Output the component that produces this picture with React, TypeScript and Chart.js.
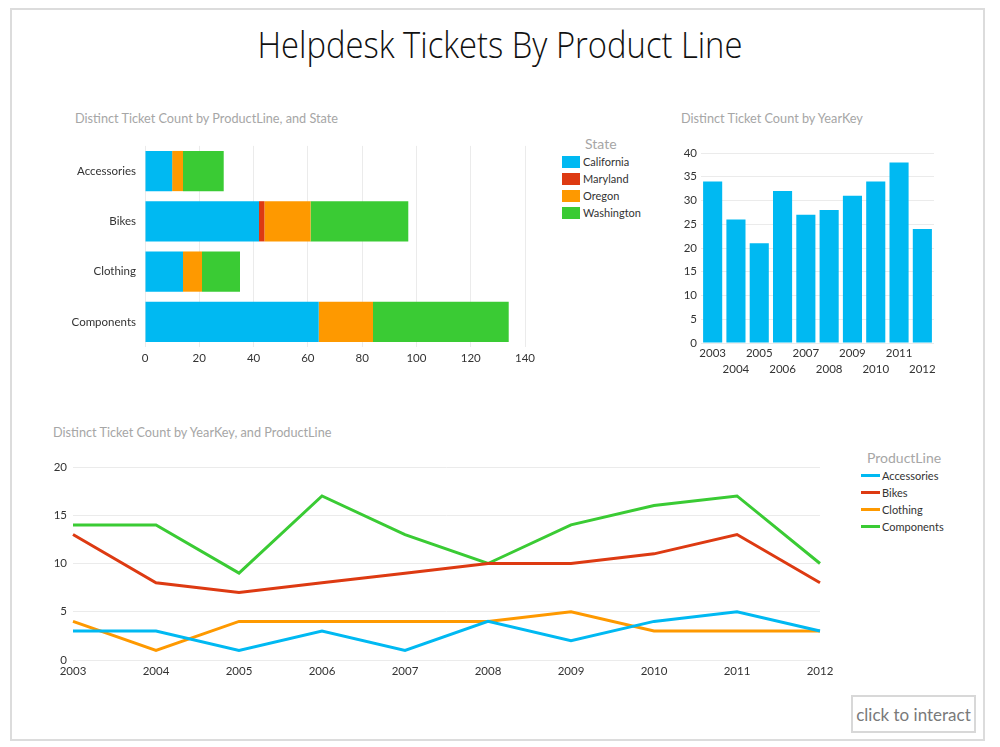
import React, { useEffect, useRef } from "react";
import { Chart, registerables } from "chart.js";

Chart.register(...registerables);

// ---------- data ----------
const productLines = ["Accessories", "Bikes", "Clothing", "Components"];
const states = ["California", "Maryland", "Oregon", "Washington"];
const californiaCounts = [10, 42, 14, 64];
const marylandCounts = [0, 2, 0, 0];
const oregonCounts = [4, 17, 7, 20];
const washingtonCounts = [15, 36, 14, 50];

const years = ["2003", "2004", "2005", "2006", "2007", "2008", "2009", "2010", "2011", "2012"];
const yearTotals = [34, 26, 21, 32, 27, 28, 31, 34, 38, 24];

const accessoriesByYear = [3, 3, 1, 3, 1, 4, 2, 4, 5, 3];
const bikesByYear = [13, 8, 7, 8, 9, 10, 10, 11, 13, 8];
const clothingByYear = [4, 1, 4, 4, 4, 4, 5, 3, 3, 3];
const componentsByYear = [14, 14, 9, 17, 13, 10, 14, 16, 17, 10];

// ---------- styles ----------
const COLORS = ["#00B9F2", "#DD3A12", "#FE9900", "#3ACB34"];
const FONT = "Lato, 'Open Sans', sans-serif";
const TITLE_FONT = "'Open Sans', Lato, sans-serif";
const TICK_COLOR = "#333333";
const GRID_COLOR = "#ebebeb";
const SUBTITLE_COLOR = "#a6a6a6";

function ChartCanvas({ left, top, width, height, makeConfig }: any) {
  const ref = useRef<HTMLCanvasElement | null>(null);
  useEffect(() => {
    if (!ref.current) return;
    const chart = new Chart(ref.current, makeConfig());
    return () => chart.destroy();
  }, []);
  return (
    <div style={{ position: "absolute", left, top, width, height }}>
      <canvas ref={ref} width={width} height={height} style={{ width, height, display: "block" }} />
    </div>
  );
}

const tickFont = { family: FONT, size: 11.5 };

function stackedBarConfig(): any {
  const seriesValues = [californiaCounts, marylandCounts, oregonCounts, washingtonCounts];
  return {
    type: "bar",
    data: {
      labels: productLines,
      datasets: states.map((s, i) => ({
        label: s,
        data: seriesValues[i],
        backgroundColor: COLORS[i],
        borderWidth: 0,
        barPercentage: 0.8,
        categoryPercentage: 1,
      })),
    },
    options: {
      indexAxis: "y",
      responsive: false,
      animation: false,
      layout: { padding: { top: 15, right: 15, left: 0, bottom: 0 } },
      plugins: { legend: { display: false }, tooltip: { enabled: false } },
      scales: {
        x: {
          stacked: true,
          min: 0,
          max: 140,
          ticks: { stepSize: 20, color: TICK_COLOR, font: tickFont, padding: 4 },
          grid: { color: GRID_COLOR, drawTicks: false },
          border: { display: false },
          afterFit: (s: any) => { s.height = 28; },
        },
        y: {
          stacked: true,
          ticks: { color: TICK_COLOR, font: tickFont, padding: 9 },
          grid: { display: false, drawTicks: false },
          border: { display: false },
          afterFit: (s: any) => { s.width = 85; },
        },
      },
    },
  };
}

function yearBarConfig(): any {
  return {
    type: "bar",
    data: {
      labels: years,
      datasets: [
        {
          label: "Distinct Ticket Count",
          data: yearTotals,
          backgroundColor: COLORS[0],
          borderWidth: 0,
          barPercentage: 0.82,
          categoryPercentage: 1,
        },
      ],
    },
    options: {
      responsive: false,
      animation: false,
      layout: { padding: { top: 23, right: 26, left: 0, bottom: 0 } },
      plugins: { legend: { display: false }, tooltip: { enabled: false } },
      scales: {
        x: {
          ticks: {
            color: TICK_COLOR,
            font: { ...tickFont, lineHeight: 1.35 },
            padding: 3,
            maxRotation: 0,
            autoSkip: false,
            callback: (_v: any, i: number) => (i % 2 === 0 ? [years[i], ""] : ["", years[i]]),
          },
          grid: { display: false, drawTicks: false },
          border: { display: false },
          afterFit: (s: any) => { s.height = 37; },
        },
        y: {
          min: 0,
          max: 40,
          ticks: { stepSize: 5, color: TICK_COLOR, font: tickFont, padding: 4 },
          grid: { color: GRID_COLOR, drawTicks: false },
          border: { display: false },
          afterFit: (s: any) => { s.width = 41; },
        },
      },
    },
  };
}

const lineSeries = [accessoriesByYear, bikesByYear, clothingByYear, componentsByYear];

function lineConfig(): any {
  return {
    type: "line",
    data: {
      labels: years,
      datasets: productLines.map((p, i) => ({
        label: p,
        data: lineSeries[i],
        borderColor: COLORS[i],
        backgroundColor: COLORS[i],
        borderWidth: 3,
        pointRadius: 0,
        tension: 0,
        fill: false,
      })),
    },
    options: {
      responsive: false,
      animation: false,
      layout: { padding: { top: 17, right: 20, left: 0, bottom: 0 } },
      plugins: { legend: { display: false }, tooltip: { enabled: false } },
      scales: {
        x: {
          offset: false,
          ticks: { color: TICK_COLOR, font: tickFont, padding: 4, maxRotation: 0, autoSkip: false },
          grid: { display: false, drawTicks: false },
          border: { display: false },
          afterFit: (s: any) => { s.height = 30; },
        },
        y: {
          min: 0,
          max: 20,
          ticks: { stepSize: 5, color: TICK_COLOR, font: tickFont, padding: 6 },
          grid: { color: GRID_COLOR, drawTicks: false },
          border: { display: false },
          afterFit: (s: any) => { s.width = 33; },
        },
      },
    },
  };
}

const subtitleStyle: any = {
  position: "absolute",
  fontFamily: FONT,
  fontSize: 12.7,
  color: SUBTITLE_COLOR,
  whiteSpace: "nowrap",
  lineHeight: "16px",
};

const legendTextStyle: any = {
  fontFamily: FONT,
  fontSize: 11,
  color: "#333",
  lineHeight: "17px",
  whiteSpace: "nowrap",
};

export default function App() {
  return (
    <div
      style={{
        position: "absolute",
        left: 0,
        top: 0,
        width: 1000,
        height: 747,
        background: "#fff",
        overflow: "hidden",
        fontFamily: FONT,
      }}
    >
      {/* frame */}
      <div
        style={{
          position: "absolute",
          left: 10,
          top: 8,
          width: 975,
          height: 733,
          border: "2px solid #dcdcdc",
          boxSizing: "border-box",
        }}
      />
      {/* title */}
      <div
        style={{
          position: "absolute",
          left: 0,
          width: 1000,
          top: 18,
          textAlign: "center",
          fontFamily: TITLE_FONT,
          fontWeight: 300,
          fontSize: 36,
          lineHeight: "54px",
          color: "#111",
          transform: "scaleX(0.91)",
          transformOrigin: "500px 0",
        }}
      >
        Helpdesk Tickets By Product Line
      </div>

      {/* chart 1 */}
      <div style={{ ...subtitleStyle, left: 75, top: 110 }}>Distinct Ticket Count by ProductLine, and State</div>
      <ChartCanvas left={60} top={130} width={480} height={245} makeConfig={stackedBarConfig} />
      <div style={{ position: "absolute", left: 562, top: 135 }}>
        <div style={{ fontFamily: FONT, fontSize: 14, color: "#a6a6a6", lineHeight: "18px", marginLeft: 23 }}>State</div>
        {states.map((s, i) => (
          <div key={s} style={{ display: "flex", alignItems: "center", height: 17 }}>
            <div style={{ width: 18, height: 12, background: COLORS[i], marginRight: 3 }} />
            <span style={legendTextStyle}>{s}</span>
          </div>
        ))}
      </div>

      {/* chart 2 */}
      <div style={{ ...subtitleStyle, left: 681, top: 110 }}>Distinct Ticket Count by YearKey</div>
      <ChartCanvas left={660} top={130} width={300} height={250} makeConfig={yearBarConfig} />

      {/* chart 3 */}
      <div style={{ ...subtitleStyle, left: 53, top: 424 }}>Distinct Ticket Count by YearKey, and ProductLine</div>
      <ChartCanvas left={40} top={450} width={800} height={240} makeConfig={lineConfig} />
      <div style={{ position: "absolute", left: 861, top: 449 }}>
        <div style={{ fontFamily: FONT, fontSize: 14, color: "#a6a6a6", lineHeight: "18px", marginLeft: 6 }}>ProductLine</div>
        {productLines.map((p, i) => (
          <div key={p} style={{ display: "flex", alignItems: "center", height: 17 }}>
            <div style={{ width: 19, height: 3, background: COLORS[i], marginRight: 2 }} />
            <span style={legendTextStyle}>{p}</span>
          </div>
        ))}
      </div>

      {/* click to interact */}
      <div
        style={{
          position: "absolute",
          left: 851,
          top: 695,
          width: 125,
          height: 38,
          border: "2px solid #d8d8d8",
          boxSizing: "border-box",
          display: "flex",
          alignItems: "center",
          justifyContent: "center",
          fontFamily: FONT,
          fontSize: 17,
          color: "#7a7a7a",
          whiteSpace: "nowrap",
        }}
      >
        click to interact
      </div>
    </div>
  );
}
